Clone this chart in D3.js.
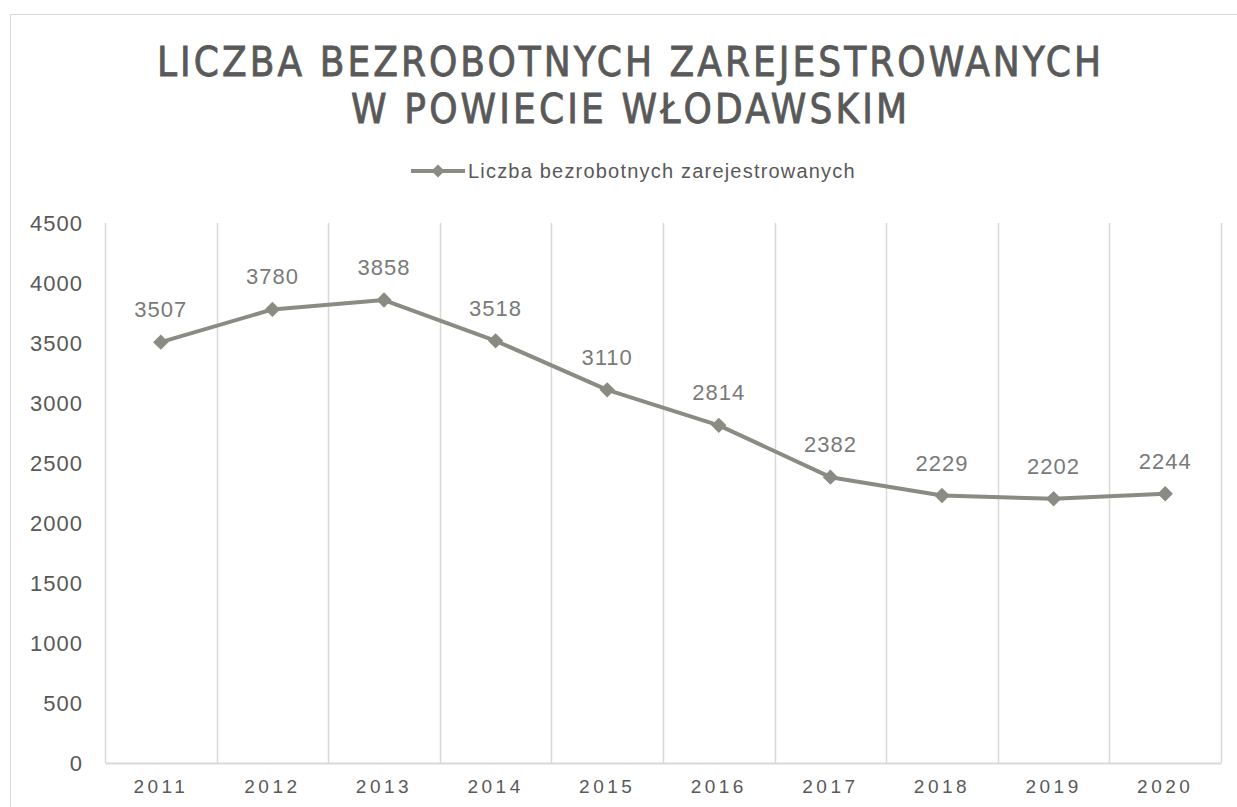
<!DOCTYPE html>
<html>
<head>
<meta charset="utf-8">
<script src="https://cdn.jsdelivr.net/npm/d3@7"></script>
<style>
  body { margin: 0; background: #fff; }
  svg { display: block; font-family: "Liberation Sans", Arial, sans-serif; }
</style>
</head>
<body>
<svg width="1237" height="807"></svg>
<script>
// data
var years = ["2011", "2012", "2013", "2014", "2015", "2016", "2017", "2018", "2019", "2020"];
var unemployed = [3507, 3780, 3858, 3518, 3110, 2814, 2382, 2229, 2202, 2244];
var yTicks = [0, 500, 1000, 1500, 2000, 2500, 3000, 3500, 4000, 4500];
var titleLines = ["LICZBA BEZROBOTNYCH ZAREJESTROWANYCH", "W POWIECIE WŁODAWSKIM"];
var seriesName = "Liczba bezrobotnych zarejestrowanych";

var svg = d3.select("svg"),
    width = +svg.attr("width"),
    height = +svg.attr("height");

var lineColor = "#8a8b83",
    gridColor = "#d9d9d9",
    textColor = "#595959";

var margin = {left: 105, right: 16, top: 223, bottom: 44};

// chart frame
svg.append("rect")
    .attr("x", 10.5).attr("y", 14.5)
    .attr("width", width).attr("height", height)
    .attr("fill", "none")
    .attr("stroke", gridColor);

var x = d3.scaleBand()
    .domain(years)
    .range([margin.left, width - margin.right]);

var y = d3.scaleLinear()
    .domain([0, 4500])
    .range([height - margin.bottom, margin.top]);

// vertical gridlines at band edges
var edges = years.map(function(d) { return x(d); }).concat([x.range()[1]]);
svg.append("g")
    .selectAll("line")
    .data(edges)
    .enter().append("line")
      .attr("x1", function(d) { return Math.round(d) + 0.5; })
      .attr("x2", function(d) { return Math.round(d) + 0.5; })
      .attr("y1", y(4500))
      .attr("y2", y(0))
      .attr("stroke", gridColor)
      .attr("stroke-width", 1.5);

// bottom axis
var xAxis = svg.append("g")
    .attr("transform", "translate(0," + y(0) + ")")
    .call(d3.axisBottom(x).tickSize(0).tickPadding(17));
xAxis.select(".domain").attr("stroke", gridColor).attr("stroke-width", 2);
xAxis.selectAll("text")
    .attr("fill", textColor)
    .attr("font-size", 19)
    .attr("letter-spacing", 3.5)
    .attr("font-family", "'Liberation Sans', Arial, sans-serif");

// left axis labels
var yAxis = svg.append("g")
    .attr("transform", "translate(" + (margin.left - 22) + ",0)")
    .call(d3.axisLeft(y).tickValues(yTicks).tickFormat(d3.format("d")).tickSize(0).tickPadding(0));
yAxis.select(".domain").remove();
yAxis.selectAll("text")
    .attr("fill", textColor)
    .attr("font-size", 22)
    .attr("letter-spacing", 1)
    .attr("font-family", "'Liberation Sans', Arial, sans-serif");

// series line
var points = years.map(function(d, i) { return {year: d, value: unemployed[i]}; });
var line = d3.line()
    .x(function(d) { return x(d.year) + x.bandwidth() / 2; })
    .y(function(d) { return y(d.value); });

svg.append("path")
    .datum(points)
    .attr("d", line)
    .attr("fill", "none")
    .attr("stroke", lineColor)
    .attr("stroke-width", 4)
    .attr("stroke-linejoin", "round");

var diamond = d3.symbol().type(d3.symbolDiamond2).size(150);

svg.append("g")
    .selectAll("path")
    .data(points)
    .enter().append("path")
      .attr("d", diamond)
      .attr("transform", function(d) {
        return "translate(" + (x(d.year) + x.bandwidth() / 2) + "," + y(d.value) + ")";
      })
      .attr("fill", lineColor);

// data labels
svg.append("g")
    .selectAll("text")
    .data(points)
    .enter().append("text")
      .attr("x", function(d) { return x(d.year) + x.bandwidth() / 2; })
      .attr("y", function(d) { return y(d.value) - 25; })
      .attr("text-anchor", "middle")
      .attr("font-size", 22)
      .attr("letter-spacing", 1)
      .attr("fill", "#7a7a7a")
      .text(function(d) { return d.value; });

// title
var titleWidths = [944, 556];
svg.append("g")
    .selectAll("text")
    .data(titleLines)
    .enter().append("text")
      .attr("x", 629)
      .attr("y", function(d, i) { return 76 + i * 47; })
      .attr("text-anchor", "middle")
      .attr("font-size", 40)
      .attr("font-family", "'DejaVu Sans Condensed', 'DejaVu Sans', sans-serif")
      .attr("font-stretch", "condensed")
      .attr("textLength", function(d, i) { return titleWidths[i]; })
      .attr("lengthAdjust", "spacing")
      .attr("fill", textColor)
      .attr("stroke", textColor)
      .attr("stroke-width", 0.8)
      .text(function(d) { return d; });

// legend
var legend = svg.append("g").attr("transform", "translate(411,171)");
legend.append("line")
    .attr("x1", 0).attr("x2", 54)
    .attr("stroke", lineColor)
    .attr("stroke-width", 4);
legend.append("path")
    .attr("d", diamond.size(110))
    .attr("transform", "translate(27,0)")
    .attr("fill", lineColor);
legend.append("text")
    .attr("x", 57)
    .attr("dy", "0.35em")
    .attr("font-size", 20)
    .attr("letter-spacing", 1.2)
    .attr("fill", textColor)
    .text(seriesName);
</script>
</body>
</html>
